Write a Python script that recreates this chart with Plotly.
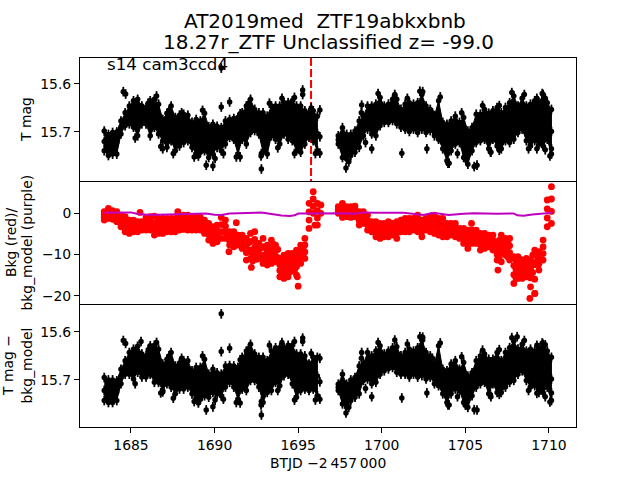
import plotly.graph_objects as go
from plotly.subplots import make_subplots

# Time columns (BTJD - 2457000)
t_cols = [1683.40,1683.65,1683.90,1684.15,1684.40,1684.65,1684.90,1685.15,1685.40,1685.65,1685.90,1686.15,1686.40,
          1686.65,1686.90,1687.15,1687.40,1687.65,1687.90,1688.15,1688.40,1688.65,1688.90,1689.15,1689.40,1689.65,
          1689.90,1690.15,1690.40,1690.65,1690.90,1691.15,1691.40,1691.65,1691.90,1692.15,1692.40,1692.65,1692.90,
          1693.15,1693.40,1693.65,1693.90,1694.15,1694.40,1694.65,1694.90,1695.15,1695.40,1695.65,1695.90,1696.15,
          1697.40,1697.65,1697.90,1698.15,1698.40,1698.65,1698.90,1699.15,1699.40,1699.65,1699.90,1700.15,1700.40,
          1700.65,1700.90,1701.15,1701.40,1701.65,1701.90,1702.15,1702.40,1702.65,1702.90,1703.15,1703.40,1703.65,
          1703.90,1704.15,1704.40,1704.65,1704.90,1705.15,1705.40,1705.65,1705.90,1706.15,1706.40,1706.65,1706.90,
          1707.15,1707.40,1707.65,1707.90,1708.15,1708.40,1708.65,1708.90,1709.15,1709.40,1709.65,1709.90,1710.15]

top_hi = [15.698,15.705,15.701,15.700,15.677,15.660,15.646,15.635,15.632,15.646,15.649,15.635,15.632,
          15.642,15.674,15.661,15.646,15.670,15.665,15.663,15.665,15.680,15.674,15.677,15.661,15.689,
          15.684,15.688,15.691,15.677,15.674,15.672,15.670,15.660,15.646,15.632,15.653,15.660,15.660,
          15.667,15.646,15.646,15.646,15.639,15.639,15.635,15.646,15.646,15.656,15.660,15.656,15.667,
          15.708,15.691,15.705,15.705,15.698,15.677,15.667,15.646,15.646,15.642,15.628,15.646,15.642,
          15.632,15.632,15.653,15.642,15.639,15.642,15.639,15.622,15.646,15.653,15.667,15.635,15.680,
          15.684,15.677,15.667,15.680,15.670,15.698,15.691,15.663,15.663,15.653,15.661,15.656,15.649,
          15.660,15.649,15.639,15.625,15.646,15.630,15.646,15.642,15.635,15.639,15.622,15.639,15.653]
top_mid = [15.720,15.727,15.724,15.722,15.690,15.674,15.665,15.663,15.670,15.664,15.667,15.672,15.661,
           15.673,15.696,15.697,15.682,15.704,15.697,15.692,15.691,15.706,15.710,15.709,15.700,15.721,
           15.715,15.710,15.715,15.701,15.692,15.693,15.708,15.688,15.686,15.667,15.675,15.682,15.701,
           15.706,15.677,15.680,15.685,15.672,15.677,15.676,15.692,15.694,15.690,15.685,15.687,15.703,
           15.716,15.722,15.730,15.727,15.720,15.704,15.688,15.670,15.675,15.675,15.658,15.663,15.661,
           15.654,15.657,15.671,15.668,15.669,15.668,15.670,15.658,15.673,15.675,15.687,15.675,15.707,
           15.722,15.708,15.696,15.701,15.711,15.732,15.715,15.692,15.690,15.684,15.698,15.685,15.689,
           15.697,15.683,15.680,15.670,15.673,15.662,15.682,15.685,15.676,15.682,15.675,15.677,15.699]
top_lo = [15.739,15.749,15.746,15.746,15.704,15.687,15.683,15.690,15.708,15.683,15.683,15.708,15.690,
          15.704,15.718,15.732,15.718,15.739,15.729,15.722,15.718,15.732,15.746,15.742,15.739,15.753,
          15.746,15.732,15.739,15.725,15.711,15.715,15.746,15.715,15.725,15.701,15.697,15.704,15.742,
          15.746,15.708,15.715,15.725,15.704,15.715,15.718,15.739,15.742,15.725,15.711,15.718,15.739,
          15.725,15.753,15.756,15.749,15.742,15.732,15.708,15.694,15.704,15.708,15.687,15.680,15.680,
          15.676,15.683,15.690,15.694,15.699,15.694,15.701,15.694,15.701,15.697,15.708,15.715,15.735,
          15.760,15.739,15.725,15.722,15.753,15.767,15.739,15.722,15.718,15.715,15.735,15.715,15.729,
          15.735,15.718,15.722,15.715,15.701,15.694,15.718,15.729,15.718,15.725,15.729,15.715,15.746]
top_out_t = [1684.54,1684.68,1685.25,1686.90,1689.50,1689.90,1690.40,1690.40,1690.90,1691.30,1692.80,1692.80,1695.27,1695.27,
             1697.86,1699.40,1701.20,1702.70,1703.96,1705.00,1705.70,1706.50,1710.06,1710.15,1698.80,1702.45,1703.50,1709.60,
             1696.30,1696.30,1696.30,
             1686.03,1686.53,1687.28,1688.03,1689.28,1691.53,1692.03,1693.28,1694.03,1694.78,1695.78,1698.78,
             1699.78,1700.78,1701.53,1702.28,1703.03,1704.78,1706.03,1707.03,1707.78,1708.53,1709.28,1709.78,
             1686.78,1687.53,1688.78,1689.03,1690.03,1690.53,1691.53,1692.78,1693.78,1694.78,1696.03,
             1698.03,1699.03,1704.03,1704.53,1705.03,1705.53,1706.53,1707.03,1708.78,1709.28,1709.78]
top_out_m = [15.616,15.621,15.7125,15.735,15.769,15.771,15.567,15.648,15.6375,15.752,15.777,15.745,15.6125,15.622,
             15.775,15.735,15.744,15.735,15.765,15.754,15.769,15.741,15.750,15.735,15.644,15.616,15.627,15.620,
             15.654,15.710,15.744,
             15.640,15.625,15.655,15.660,15.655,15.662,15.640,15.640,15.630,15.628,15.650,15.660,
             15.620,15.622,15.630,15.615,15.660,15.660,15.645,15.645,15.618,15.622,15.630,15.630,
             15.730,15.745,15.752,15.750,15.755,15.745,15.752,15.750,15.733,15.745,15.745,
             15.762,15.722,15.765,15.745,15.757,15.772,15.742,15.738,15.735,15.735,15.737]

low_hi = [15.695,15.700,15.700,15.702,15.678,15.660,15.643,15.636,15.630,15.646,15.650,15.629,15.628,
          15.636,15.667,15.657,15.643,15.671,15.665,15.660,15.660,15.681,15.674,15.674,15.657,15.688,
          15.678,15.685,15.688,15.671,15.670,15.671,15.674,15.653,15.640,15.626,15.646,15.653,15.653,
          15.660,15.640,15.633,15.633,15.633,15.628,15.628,15.646,15.646,15.650,15.667,15.653,15.653,
          15.709,15.688,15.709,15.700,15.695,15.671,15.667,15.643,15.650,15.640,15.629,15.646,15.640,
          15.633,15.631,15.650,15.643,15.636,15.640,15.633,15.615,15.643,15.650,15.667,15.629,15.678,
          15.681,15.667,15.660,15.678,15.664,15.692,15.685,15.660,15.650,15.646,15.657,15.657,15.643,
          15.660,15.643,15.633,15.619,15.636,15.626,15.640,15.636,15.640,15.633,15.626,15.640,15.653]
low_mid = [15.722,15.726,15.722,15.725,15.693,15.673,15.668,15.667,15.660,15.672,15.671,15.662,15.668,
           15.672,15.694,15.683,15.681,15.702,15.692,15.688,15.688,15.706,15.707,15.708,15.697,15.713,
           15.703,15.708,15.711,15.693,15.687,15.694,15.708,15.686,15.682,15.662,15.674,15.684,15.702,
           15.694,15.681,15.669,15.673,15.662,15.658,15.670,15.692,15.683,15.684,15.694,15.687,15.692,
           15.716,15.719,15.733,15.722,15.717,15.700,15.684,15.671,15.680,15.673,15.659,15.664,15.658,
           15.652,15.658,15.669,15.665,15.666,15.664,15.664,15.653,15.671,15.672,15.688,15.670,15.704,
           15.714,15.698,15.690,15.700,15.706,15.725,15.709,15.688,15.679,15.676,15.693,15.682,15.685,
           15.693,15.679,15.669,15.660,15.662,15.654,15.671,15.676,15.676,15.680,15.676,15.677,15.698]
low_lo = [15.743,15.747,15.747,15.743,15.708,15.688,15.688,15.698,15.684,15.694,15.694,15.688,15.705,
          15.705,15.722,15.708,15.715,15.729,15.719,15.719,15.715,15.729,15.740,15.740,15.733,15.736,
          15.726,15.729,15.733,15.715,15.705,15.715,15.740,15.719,15.722,15.701,15.701,15.715,15.747,
          15.726,15.722,15.705,15.712,15.691,15.688,15.708,15.736,15.722,15.719,15.722,15.719,15.733,
          15.722,15.750,15.757,15.743,15.736,15.729,15.701,15.698,15.708,15.705,15.688,15.681,15.677,
          15.674,15.684,15.688,15.688,15.694,15.688,15.694,15.691,15.698,15.694,15.708,15.712,15.729,
          15.747,15.729,15.719,15.722,15.747,15.757,15.733,15.715,15.708,15.705,15.729,15.708,15.726,
          15.726,15.715,15.705,15.701,15.688,15.681,15.701,15.715,15.712,15.726,15.726,15.715,15.743]
low_out_t = [1684.54,1684.68,1685.25,1686.90,1685.60,1689.50,1689.90,1690.40,1690.40,1690.90,1691.30,1692.80,1692.80,1695.27,1695.27,
             1697.86,1699.40,1701.20,1702.70,1703.96,1705.00,1705.70,1706.50,1710.06,1710.15,1698.80,1702.45,1702.45,1703.50,1709.60,1708.10,
             1696.30,1696.30,1696.30,
             1686.03,1686.53,1687.28,1688.03,1689.28,1691.53,1692.03,1693.28,1694.03,1694.78,1695.78,1698.78,
             1699.78,1700.78,1701.53,1702.28,1703.03,1704.78,1706.03,1707.03,1707.78,1708.53,1709.28,1709.78,
             1686.78,1687.53,1688.78,1689.03,1690.03,1690.53,1691.53,1692.78,1693.78,1694.78,1696.03,
             1698.03,1699.03,1704.03,1704.53,1705.03,1705.53,1706.53,1707.03,1708.78,1709.28,1709.78]
low_out_m = [15.618,15.624,15.708,15.725,15.620,15.7625,15.756,15.5625,15.641,15.634,15.747,15.773,15.745,15.613,15.620,
             15.769,15.735,15.7375,15.727,15.752,15.752,15.7625,15.731,15.746,15.727,15.643,15.611,15.617,15.623,15.623,15.610,
             15.655,15.704,15.740,
             15.637,15.622,15.650,15.655,15.650,15.658,15.635,15.628,15.622,15.620,15.645,15.655,
             15.622,15.617,15.625,15.610,15.655,15.652,15.638,15.637,15.612,15.618,15.628,15.627,
             15.727,15.738,15.745,15.748,15.742,15.740,15.748,15.752,15.722,15.742,15.742,
             15.757,15.718,15.752,15.735,15.752,15.762,15.735,15.730,15.722,15.728,15.735]

red_hi = [.32,1.13,.56,.32,-.48,-.89,-1.70,-1.70,-2.10,-2.10,-1.05,-.89,-.73,
          -1.29,-1.29,-1.29,-1.29,-1.29,-.89,-.48,-.48,-1.05,-1.05,-1.05,-1.70,-2.50,
          -3.31,-2.91,-1.05,-1.70,-4.52,-4.52,-5.33,-5.33,-6.13,-4.92,-4.52,-7.34,-6.13,
          -7.75,-6.54,-7.75,-10.98,-10.17,-9.77,-9.77,-8.96,-7.75,-6.13,2.34,5.17,2.34,
          1.53,2.34,1.53,1.53,1.69,.32,.32,-.48,-2.10,-2.10,-2.50,-2.50,-2.10,
          -2.50,-2.10,-1.70,-1.29,-1.29,-1.29,-.48,-1.70,-1.29,-.89,-.48,-1.29,-1.29,
          -2.50,-2.50,-2.50,-3.71,-3.71,-4.12,-4.12,-4.12,-4.92,-4.92,-5.33,-5.33,-7.34,
          -5.33,-6.13,-6.13,-10.57,-10.57,-11.38,-10.98,-11.38,-8.96,-9.36,-6.54,3.15,6.38]
red_m1 = [-.35,.35,-.10,-.50,-1.40,-2.10,-2.80,-2.60,-2.90,-2.80,-2.10,-2.00,-2.30,
          -2.50,-2.50,-2.30,-2.40,-2.40,-2.00,-1.70,-1.70,-2.10,-2.10,-2.10,-2.80,-3.90,
          -4.70,-4.30,-2.80,-3.20,-5.60,-5.80,-6.10,-6.40,-7.90,-6.90,-6.40,-8.60,-8.10,
          -9.40,-8.40,-9.10,-12.50,-12.00,-11.70,-11.10,-11.00,-9.20,-7.70,.30,3.40,.60,
          .90,1.20,.70,.70,.80,-.70,-.60,-1.70,-2.90,-3.30,-3.70,-3.60,-3.30,
          -3.40,-3.40,-2.60,-2.40,-2.40,-2.20,-1.80,-3.00,-2.20,-2.10,-2.00,-2.60,-2.80,
          -3.60,-3.40,-3.60,-4.50,-4.90,-5.60,-5.20,-5.20,-6.30,-6.10,-6.30,-6.50,-8.70,
          -7.50,-7.50,-7.90,-12.70,-12.30,-12.90,-12.50,-13.50,-12.50,-10.90,-8.20,1.00,3.40]
red_m2 = [-1.05,-.50,-.85,-1.30,-2.40,-3.30,-3.90,-3.60,-3.70,-3.40,-3.10,-3.10,-3.80,
          -3.70,-3.70,-3.40,-3.50,-3.50,-3.10,-2.90,-2.90,-3.10,-3.10,-3.10,-3.90,-5.20,
          -6.00,-5.60,-4.50,-4.70,-6.70,-7.00,-6.90,-7.50,-9.60,-9.00,-8.30,-9.80,-10.20,
          -11.00,-10.30,-10.40,-13.90,-13.90,-13.50,-12.50,-13.00,-10.70,-9.40,-1.70,1.60,-1.20,
          .40,.10,-.10,-.20,.00,-1.80,-1.60,-2.90,-3.70,-4.50,-4.90,-4.60,-4.50,
          -4.40,-4.80,-3.60,-3.50,-3.50,-3.20,-3.20,-4.40,-3.20,-3.30,-3.40,-4.00,-4.30,
          -4.60,-4.40,-4.60,-5.30,-6.10,-7.10,-6.30,-6.30,-7.60,-7.40,-7.20,-7.80,-10.00,
          -9.60,-8.80,-9.60,-14.90,-14.10,-14.30,-13.90,-15.70,-16.00,-12.30,-9.80,-1.20,.40]
red_lo = [-1.70,-1.29,-1.53,-2.10,-3.31,-4.52,-4.92,-4.52,-4.52,-4.12,-4.12,-4.12,-5.33,
          -4.92,-4.92,-4.52,-4.52,-4.52,-4.12,-3.96,-4.12,-4.12,-4.12,-4.12,-4.92,-6.54,
          -7.34,-6.94,-6.13,-6.13,-7.75,-8.15,-7.75,-8.56,-11.38,-10.98,-10.17,-10.98,-12.19,
          -12.59,-12.19,-11.78,-15.42,-15.82,-15.42,-13.80,-15.01,-12.19,-10.98,-3.71,-.08,-2.91,
          -.08,-1.05,-.89,-1.05,-.89,-2.91,-2.50,-4.12,-4.52,-5.73,-6.13,-5.73,-5.73,
          -5.33,-6.13,-4.52,-4.52,-4.52,-4.12,-4.52,-5.73,-4.12,-4.52,-4.92,-5.33,-5.73,
          -5.73,-5.33,-5.73,-6.13,-7.34,-8.56,-7.34,-7.34,-8.96,-8.56,-8.15,-8.96,-11.38,
          -11.78,-10.17,-11.38,-17.03,-15.82,-15.82,-15.42,-17.84,-19.45,-13.80,-11.38,-3.31,-2.50]
red_out_t = [1685.54,1687.80,1690.86,1691.30,1692.20,1695.00,1694.95,1696.36,1696.36,1696.00,1705.37,1706.95,1708.86,1709.16,
             1692.03,1692.03,1692.28,1692.28,1692.28,1692.53,1692.53,1692.53,1692.78,1692.78,1693.03,1693.03,1693.03,
             1693.28,1693.28,1693.53,1693.53,1693.53,1693.78,1693.78,1694.03,1694.03,1694.03,1694.28,1694.28,1694.28,
             1694.53,1694.53,1694.53,1694.78,1694.78,1694.78,1695.03,1695.03,1695.28,1695.28,
             1708.03,1708.03,1708.03,1708.28,1708.28,1708.28,1708.53,1708.53,1708.53,1708.78,1708.78,1708.78,
             1709.03,1709.03,1709.03,1709.28,1709.28,1706.53,1706.53,1707.03,1707.03,1707.03,1707.28,1707.28,
             1707.53,1707.53,1707.53]
red_out_v = [.16,.32,-9.36,-2.34,-13.16,-17.68,-15.42,1.94,-.08,-2.90,-2.50,-13.80,-20.66,-19.45,
             -7.2,-9.4,-6.8,-9.8,-11.6,-7.5,-9.4,-11.2,-8.4,-10.8,-8.4,-10.2,-11.8,
             -9.0,-11.0,-7.6,-9.6,-11.4,-8.8,-10.8,-11.6,-13.2,-14.8,-11.0,-12.8,-14.6,
             -10.8,-12.6,-14.2,-10.2,-12.0,-14.0,-9.6,-11.2,-8.5,-10.4,
             -11.4,-13.6,-15.8,-11.2,-13.0,-15.0,-11.8,-13.6,-15.0,-12.0,-13.6,-15.0,
             -10.2,-12.0,-14.4,-10.4,-11.8,-6.8,-8.2,-6.6,-8.6,-10.6,-7.0,-9.0,
             -7.2,-9.4,-10.6]

model_t = [1683.4,1684.0,1684.6,1685.0,1685.4,1686.0,1686.6,1687.2,1687.8,1688.4,1688.9,1689.5,1690.0,1690.4,1690.9,
           1691.4,1692.0,1692.8,1693.3,1694.0,1694.5,1694.8,1695.0,1695.6,1696.3,1697.0,1697.8,1698.3,1698.9,1699.6,
           1700.3,1701.3,1702.5,1703.0,1703.4,1704.0,1704.9,1705.5,1706.9,1707.9,1708.1,1708.5,1709.0,1709.6,1710.2]
model_v = [.10,.12,.14,.16,-.25,-.42,-.40,-.34,-.26,-.24,-.02,-.10,-.40,-.45,-.10,
           -.02,.06,.12,-.15,-.62,-.70,-.55,-.12,-.08,-.08,.00,-.05,-.20,.16,.05,
           .08,.08,-.45,.00,-.10,-.50,-.20,-.08,-.16,-.10,-.55,-.65,-.35,-.08,.08]

cut_t = [1695.77, 1695.77]
cut_m = [15.546, 15.802]
mag_err = [0.0100]

x_ticks = [1685, 1690, 1695, 1700, 1705, 1710]
top_ticks = [15.6, 15.7]
mid_ticks = [0, -10, -20]
low_ticks = [15.6, 15.7]

FONT = "DejaVu Sans"
PW, PH = 496.0, 369.0
ML, MB = 80.0, 53.0
SEG = 52  # columns before the mid-sector data gap


def px(v):
    return (v - ML) / PW


def py(v):
    return (480 - MB - v) / PH


fig = make_subplots(rows=3, cols=1, shared_xaxes=True, vertical_spacing=0)


def add_cloud(t, hi, lo, row):
    # the dense cloud between the read upper and lower edges of the point band
    xs = t[:SEG] + t[:SEG][::-1] + [None] + t[SEG:] + t[SEG:][::-1]
    ys = hi[:SEG] + lo[:SEG][::-1] + [None] + hi[SEG:] + lo[SEG:][::-1]
    fig.add_trace(go.Scatter(x=xs, y=ys, mode="lines", fill="toself", fillcolor="black",
                             line=dict(color="black", width=1), hoverinfo="skip",
                             showlegend=False), row=row, col=1)


def add_mags(t, m, row):
    fig.add_trace(go.Scatter(
        x=t, y=m, mode="markers",
        marker=dict(color="black", size=5.5, line=dict(width=0)),
        error_y=dict(type="constant", value=mag_err[0], color="black", thickness=1.8, width=0),
        showlegend=False), row=row, col=1)


fig.add_trace(go.Scatter(x=cut_t, y=cut_m, mode="lines",
                         line=dict(color="red", width=2, dash="8px,3px"),
                         showlegend=False), row=1, col=1)
add_cloud(t_cols, top_hi, top_lo, 1)
add_cloud(t_cols, low_hi, low_lo, 3)
add_mags(t_cols * 3 + top_out_t, top_hi + top_mid + top_lo + top_out_m, 1)
add_mags(t_cols * 3 + low_out_t, low_hi + low_mid + low_lo + low_out_m, 3)

fig.add_trace(go.Scatter(x=t_cols * 4 + red_out_t, y=red_hi + red_m1 + red_m2 + red_lo + red_out_v,
                         mode="markers", marker=dict(color="red", size=6.8, line=dict(width=0)),
                         showlegend=False), row=2, col=1)
fig.add_trace(go.Scatter(x=model_t, y=model_v, mode="lines",
                         line=dict(color="#bf00bf", width=2), showlegend=False), row=2, col=1)

axis_style = dict(showgrid=False, zeroline=False, showline=True, linecolor="black", linewidth=1,
                  ticks="outside", ticklen=5, tickwidth=1, tickcolor="black",
                  tickfont=dict(family=FONT, size=13.9, color="black"))
for r in (1, 2, 3):
    fig.update_xaxes(range=[1681.95, 1711.62], row=r, col=1, mirror=(r == 1), **axis_style)
fig.update_xaxes(ticks="", showticklabels=False, row=1, col=1)
fig.update_xaxes(ticks="", showticklabels=False, row=2, col=1)
fig.update_xaxes(tickvals=x_ticks, ticktext=[str(v) for v in x_ticks], row=3, col=1)
fig.update_yaxes(range=[15.802, 15.546], mirror=True, tickvals=top_ticks, ticktext=["15.6", "15.7"], row=1, col=1, **axis_style)
fig.update_yaxes(range=[-22.0, 7.75], mirror=True, tickvals=mid_ticks, ticktext=["0", "\u221210", "\u221220"], row=2, col=1, **axis_style)
fig.update_yaxes(range=[15.798, 15.542], mirror=True, tickvals=low_ticks, ticktext=["15.6", "15.7"], row=3, col=1, **axis_style)

texts = [
    ("AT2019med  ZTF19abkxbnb", 324.5, 21, 20, 0),
    ("18.27r_ZTF Unclassified z= -99.0", 328, 42, 20, 0),
    ("BTJD \u22122\u2009457\u2009000", 328, 463, 13.9, 0),
    ("T mag", 26, 120, 13.9, -90),
    ("Bkg (red)/", 11, 243, 13.9, -90),
    ("bkg_model (purple)", 26.5, 243, 13.9, -90),
    ("T mag \u2212", 8, 366, 13.9, -90),
    ("bkg_model", 26.5, 366, 13.9, -90),
]
for s, x, y, size, ang in texts:
    fig.add_annotation(text=s, x=px(x), y=py(y), xref="paper", yref="paper", showarrow=False,
                       xanchor="center", yanchor="middle", textangle=ang,
                       font=dict(family=FONT, size=size, color="black"))
fig.add_annotation(text="s14 cam3ccd4", x=px(105), y=py(64), xref="paper", yref="paper", showarrow=False,
                   xanchor="left", yanchor="middle", font=dict(family=FONT, size=16.7, color="black"))

fig.update_layout(width=640, height=480, autosize=False, paper_bgcolor="white", plot_bgcolor="white",
                  margin=dict(l=ML, r=64, t=58, b=MB, pad=0), showlegend=False)
fig.write_html("out.html", config=dict(displayModeBar=False),
               post_script="document.body.style.margin='0';")
